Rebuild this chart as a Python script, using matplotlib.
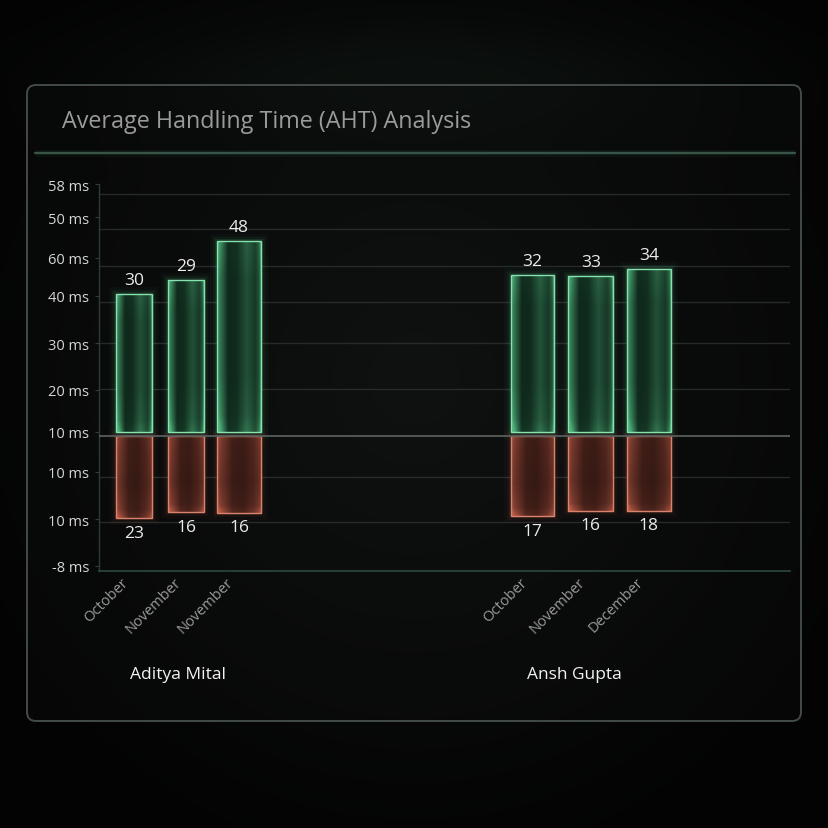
import numpy as np
import matplotlib
matplotlib.use("Agg")
import matplotlib.pyplot as plt
from matplotlib.patches import FancyBboxPatch
from matplotlib.colors import to_rgb
from matplotlib.transforms import ScaledTranslation

# ---------------- data ----------------
groups = ["Aditya Mital", "Ansh Gupta"]
months = [["October", "November", "November"], ["October", "November", "December"]]
# bar lengths as drawn on the (inconsistent) axis
green_len = [[28.4, 31.2, 39.0], [32.2, 32.0, 33.4]]
red_len = [[16.4, 15.2, 15.4], [16.0, 15.0, 15.0]]
# value labels printed on the bars
green_lbl = [[30, 29, 48], [32, 33, 34]]
red_lbl = [[23, 16, 16], [17, 16, 18]]
ytick_vals = [50.4, 43.8, 35.6, 28.0, 18.6, 9.2, 0.8, -7.2, -16.6, -26.0]
ytick_lbls = ["58 ms", "50 ms", "60 ms", "40 ms", "30 ms", "20 ms",
              "10 ms", "10 ms", "10 ms", "-8 ms"]
title = "Average Handling Time (AHT) Analysis"

# ---------------- layout / style ----------------
grid_vals = [48.4, 41.4, 34.0, 26.8, 18.6, 9.4, -8.2, -17.2]
group_start = [35, 433.5]
group_step = [52.5, 58.2]
bar_widths = [[36, 36, 44], [43, 45, 44]]
group_label_shift = [-8.5, -16.6]
green_gap = 0.8
FONT = ["Open Sans", "DejaVu Sans"]
plt.rcParams["font.family"] = FONT

W = H = 829
fig = plt.figure(figsize=(W / 100, H / 100), dpi=100)
fig.patch.set_facecolor("#040404")

# background axes in pixel coordinates
bg = fig.add_axes([0, 0, 1, 1], zorder=0)
bg.set_xlim(0, W)
bg.set_ylim(H, 0)
bg.axis("off")
yy, xx = np.mgrid[0:H, 0:W]
r = np.hypot((xx - 414) / 520.0, (yy - 380) / 540.0)
t = np.clip(1 - r, 0, 1) ** 1.3
c_in = np.array(to_rgb("#121514"))
c_out = np.array(to_rgb("#030303"))
img = c_out[None, None, :] * (1 - t[..., None]) + c_in[None, None, :] * t[..., None]
glow = np.exp(-(((xx - 414) / 330.0) ** 2 + ((yy - 80) / 60.0) ** 2))
img += glow[..., None] * np.array([0.015, 0.03, 0.022])[None, None, :]
bg.imshow(np.clip(img, 0, 1), extent=(0, W, H, 0), origin="upper", aspect="auto",
          interpolation="bilinear", zorder=0)

panel = FancyBboxPatch((27, 86), 774, 636, boxstyle="round,pad=0,rounding_size=9",
                       facecolor=(0.05, 0.055, 0.055, 0.35), edgecolor="#434b49",
                       linewidth=1.4, zorder=1)
bg.add_patch(panel)
for lw, a in [(5, 0.05), (3, 0.09)]:
    bg.plot([35, 795], [154, 154], color="#5fae86", lw=lw, alpha=a,
            solid_capstyle="butt", zorder=2)
bg.plot([35, 795], [154, 154], color="#3b5a4d", lw=1.3, zorder=3)
bg.text(62, 122, title, color="#9a9a9a", fontsize=16.8, ha="left", va="center",
        zorder=4)

# main axes
ax = fig.add_axes([99 / W, 1 - 572 / H, (790 - 99) / W, (572 - 185) / H], zorder=2)
ax.set_facecolor("none")
for s in ["top", "right"]:
    ax.spines[s].set_visible(False)
ax.spines["left"].set_color("#2a3d36")
ax.spines["bottom"].set_color("#2c4a40")
ax.spines["left"].set_linewidth(1.0)
ax.spines["bottom"].set_linewidth(1.2)

for g in grid_vals:
    ax.axhline(g, color="#262b2a", lw=1.0, zorder=1)
ax.axhline(0, color="#575d5b", lw=1.3, zorder=5)


def fill_gradient(patch, dark, bright, hprof, vprof):
    x0, y0 = patch.get_x(), patch.get_y()
    w, h = patch.get_width(), patch.get_height()
    u = np.linspace(0, 1, 80)
    H_ = np.interp(u, hprof[0], hprof[1])
    V_ = np.interp(u, vprof[0], vprof[1])
    tt = np.clip(H_[None, :] * V_[:, None], 0, 1)
    d = np.array(to_rgb(dark))
    b = np.array(to_rgb(bright))
    im_ = d[None, None, :] * (1 - tt[..., None]) + b[None, None, :] * tt[..., None]
    im = ax.imshow(im_, extent=(x0, x0 + w, min(y0, y0 + h), max(y0, y0 + h)),
                   origin="lower", aspect="auto", interpolation="bilinear", zorder=3)
    im.set_clip_path(patch)


green_h = ([0, 0.07, 0.25, 0.45, 0.68, 0.88, 0.97, 1.0],
           [1.0, 0.75, 0.12, 0.15, 0.45, 0.25, 0.5, 0.9])
green_v = ([0, 0.08, 0.3, 0.8, 1.0], [1.35, 1.0, 0.8, 0.8, 1.05])
red_h = ([0, 0.1, 0.35, 0.6, 0.85, 1.0], [0.85, 0.6, 0.22, 0.18, 0.35, 0.6])
red_v = ([0, 0.1, 0.4, 0.85, 1.0], [1.5, 1.0, 0.75, 0.9, 1.0])

xtick_pos, xtick_lab = [], []
for gi, grp in enumerate(groups):
    xs = [group_start[gi] + k * group_step[gi] for k in range(len(months[gi]))]
    ws = bar_widths[gi]
    gl = [v - green_gap for v in green_len[gi]]
    rl = [-v for v in red_len[gi]]
    # glow
    for lw, a in [(10, 0.035), (6, 0.06), (3, 0.1)]:
        ax.bar(xs, gl, width=ws, bottom=green_gap, fill=False, edgecolor="#5fd08f",
               linewidth=lw, alpha=a, zorder=2)
        ax.bar(xs, rl, width=ws, bottom=0, fill=False, edgecolor="#e0705a",
               linewidth=lw, alpha=a * 0.8, zorder=2)
    gb = ax.bar(xs, gl, width=ws, bottom=green_gap, color="#0d2419",
                edgecolor="#86e3ad", linewidth=1.0, zorder=4)
    rb = ax.bar(xs, rl, width=ws, bottom=0, color="#2a1410",
                edgecolor="#d9826c", linewidth=1.0, zorder=4)
    for p in gb:
        p.set_facecolor("none")
        fill_gradient(p, "#081a11", "#4fb07b", green_h, green_v)
    for p in rb:
        p.set_facecolor("none")
        fill_gradient(p, "#220f0c", "#b85a46", red_h, red_v)
    for k, x in enumerate(xs):
        ax.text(x, green_len[gi][k] + 2.8, str(green_lbl[gi][k]), color="#ececec",
                fontsize=12.5, ha="center", va="center", zorder=6)
        ax.text(x, -red_len[gi][k] - 2.9, str(red_lbl[gi][k]), color="#ececec",
                fontsize=12.5, ha="center", va="center", zorder=6)
    xtick_pos += xs
    xtick_lab += months[gi]
    ax.text(np.mean(xs) + group_label_shift[gi], -47.6, grp, color="#f2f2f2",
            fontsize=12.5, ha="center", va="center", zorder=6)

ax.set_xticks(xtick_pos, xtick_lab, rotation=45, ha="right",
              rotation_mode="anchor", color="#9a9a9a", fontsize=10.5)
ax.tick_params(axis="x", length=0, pad=6)
off = ScaledTranslation(-13 / 100, 5 / 100, fig.dpi_scale_trans)
for lbl in ax.get_xticklabels():
    lbl.set_transform(lbl.get_transform() + off)
ax.set_yticks(ytick_vals, ytick_lbls, color="#d6d6d6", fontsize=10.5)
ax.tick_params(axis="y", length=3, color="#2f3d38", pad=4)
ax.set_xlim(0, 691)
ax.set_ylim(-27, 50.4)

fig.savefig("out.png", dpi=100, facecolor=fig.get_facecolor())
